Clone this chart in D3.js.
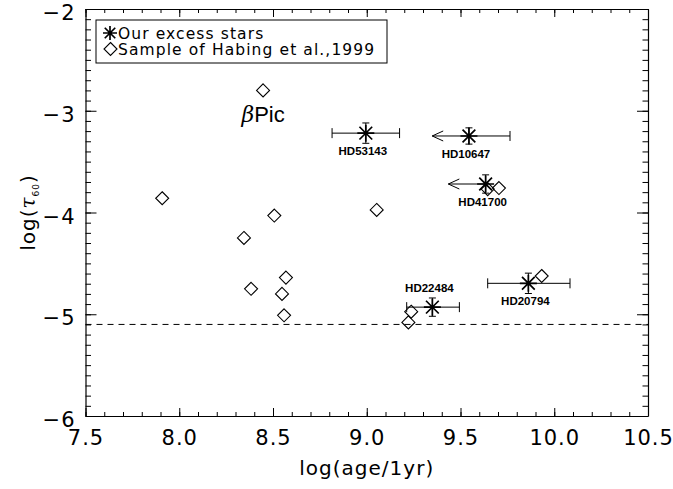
<!DOCTYPE html>
<html><head><meta charset="utf-8">
<script src="https://cdn.jsdelivr.net/npm/d3@7"></script>
<style>
body{margin:0;background:#fff;}
svg{display:block;font-family:"DejaVu Sans",sans-serif;}
</style></head>
<body><svg id="c" width="673" height="489"></svg>
<script>
// ---- data ----
const xTickValues = [7.5, 8.0, 8.5, 9.0, 9.5, 10.0, 10.5];
const xTickLabels = ["7.5", "8.0", "8.5", "9.0", "9.5", "10.0", "10.5"];
const yTickValues = [-6, -5, -4, -3, -2];
const yTickLabels = ["\u22126", "\u22125", "\u22124", "\u22123", "\u22122"];

const starNames = ["HD53143", "HD10647", "HD41700", "HD22484", "HD20794"];
const starAge   = [8.995, 9.545, 9.634, 9.35, 9.862];
const starTau   = [-3.22, -3.248, -3.72, -4.93, -4.696];
const starAgeLo = [8.815, 9.349, 9.435, 9.213, 9.645];
const starAgeHi = [9.175, 9.764, 9.634, 9.494, 10.084];
const starLoIsLimit = [false, true, true, false, false];
const starHiCap = [true, true, false, true, true];
const starTauErr = [0.1, 0.08, 0.09, 0.09, 0.1];
const starLabelAbove = [false, false, false, true, false];

const habingAge = [8.447, 7.909, 8.507, 8.345, 8.569, 8.383, 8.548, 8.559, 9.053, 9.645, 9.705, 9.237, 9.222, 9.933];
const habingTau = [-2.80, -3.86, -4.03, -4.25, -4.64, -4.75, -4.80, -5.01, -3.975, -3.77, -3.76, -4.975, -5.08, -4.624];

const detectionLimit = -5.1;
const betaPicLabel = {age: 8.447, tau: -2.80};

const legendLabels = ["Our excess stars", "Sample of Habing et al.,1999"];

// ---- layout ----
const L = 85.5, R = 648, T = 9, B = 416;
const svg = d3.select("#c");
const x = d3.scaleLinear().domain([7.5, 10.5]).range([L, R]);
const y = d3.scaleLinear().domain([-6, -2]).range([B, T]);

const xMinor = d3.range(75, 106).map(v => v / 10);
const yMinor = d3.range(-60, -19).map(v => v / 10);

function drawAxis(axisFn, scale, transform, major, minor, majLen, minLen, labels) {
  const gMin = svg.append("g").attr("transform", transform)
    .call(axisFn(scale).tickValues(minor).tickSize(minLen).tickFormat(""));
  gMin.select(".domain").remove();
  gMin.selectAll("line").attr("stroke", "#000").attr("stroke-width", 1);
  const g = svg.append("g").attr("transform", transform)
    .call(axisFn(scale).tickValues(major).tickSize(majLen).tickSizeOuter(0)
      .tickFormat(labels ? (d, i) => labels[i] : ""));
  g.select(".domain").attr("stroke", "#000").attr("stroke-width", 1.2);
  g.selectAll("line").attr("stroke", "#000").attr("stroke-width", 1);
  return g;
}
// ticks point inward
const gx = drawAxis(d3.axisBottom, x, `translate(0,${B})`, xTickValues, xMinor, -8, -4, xTickLabels);
gx.selectAll("text").attr("y", 14).attr("dy", "0.71em").attr("font-size", 21)
  .attr("letter-spacing", 1).attr("font-family", "DejaVu Sans").attr("fill", "#000");
drawAxis(d3.axisTop, x, `translate(0,${T})`, xTickValues, xMinor, -8, -4, null);
const gy = drawAxis(d3.axisLeft, y, `translate(${L},0)`, yTickValues, yMinor, -11, -5.5, yTickLabels);
gy.selectAll("text").attr("x", -10).attr("font-size", 21).attr("dy", "0.5em")
  .attr("letter-spacing", 1).attr("font-family", "DejaVu Sans").attr("fill", "#000");
drawAxis(d3.axisRight, y, `translate(${R},0)`, yTickValues, yMinor, -11, -5.5, null);

// axis titles
svg.append("text").attr("x", (L + R) / 2).attr("y", 475).attr("text-anchor", "middle")
  .attr("font-size", 20).attr("letter-spacing", 1).text("log(age/1yr)");
const yt = svg.append("text").attr("transform", `translate(35,${(T + B) / 2}) rotate(-90)`)
  .attr("text-anchor", "middle").attr("font-size", 20).attr("letter-spacing", 1);
yt.append("tspan").text("log(");
yt.append("tspan").attr("font-family", "DejaVu Serif").attr("font-style", "italic").text("\u03C4");
yt.append("tspan").attr("font-size", 9).attr("dy", 4).text("60");
yt.append("tspan").attr("dy", -4).text(")");

// detection limit
svg.append("line").attr("x1", L).attr("x2", R).attr("y1", y(detectionLimit)).attr("y2", y(detectionLimit))
  .attr("stroke", "#000").attr("stroke-width", 1).attr("stroke-dasharray", "6,5");

// symbols
function diamond(g, cx, cy, r) {
  g.append("path").attr("d", `M${cx},${cy - r}L${cx + r},${cy}L${cx},${cy + r}L${cx - r},${cy}Z`)
    .attr("fill", "none").attr("stroke", "#000").attr("stroke-width", 1.1);
}
function star(g, cx, cy, r) {
  const d = r * 0.75;
  g.append("path").attr("d",
    `M${cx - r},${cy}L${cx + r},${cy}M${cx},${cy - r}L${cx},${cy + r}` +
    `M${cx - d},${cy - d}L${cx + d},${cy + d}M${cx - d},${cy + d}L${cx + d},${cy - d}`)
    .attr("stroke", "#000").attr("stroke-width", 1.7).attr("fill", "none");
}

// Habing sample
const gh = svg.append("g");
habingAge.forEach((a, i) => diamond(gh, x(a), y(habingTau[i]), 6.5));

// beta Pic label
const bp = svg.append("text").attr("x", x(betaPicLabel.age)).attr("y", y(betaPicLabel.tau) + 32)
  .attr("text-anchor", "middle").attr("font-size", 22).attr("font-family", "Liberation Sans");
bp.append("tspan").attr("font-style", "italic").attr("font-family", "DejaVu Serif").text("\u03B2");
bp.append("tspan").text("Pic");

// our stars
const gs = svg.append("g");
starNames.forEach((n, i) => {
  const cx = x(starAge[i]), cy = y(starTau[i]);
  const xl = x(starAgeLo[i]), xh = x(starAgeHi[i]);
  gs.append("line").attr("x1", xl).attr("x2", xh).attr("y1", cy).attr("y2", cy)
    .attr("stroke", "#000").attr("stroke-width", 1);
  if (starLoIsLimit[i]) {
    gs.append("path").attr("d", `M${xl + 11},${cy - 5}L${xl},${cy}L${xl + 11},${cy + 5}`)
      .attr("fill", "none").attr("stroke", "#000").attr("stroke-width", 1);
  } else {
    gs.append("line").attr("x1", xl).attr("x2", xl).attr("y1", cy - 5).attr("y2", cy + 5)
      .attr("stroke", "#000").attr("stroke-width", 1);
  }
  if (starHiCap[i]) {
    gs.append("line").attr("x1", xh).attr("x2", xh).attr("y1", cy - 5).attr("y2", cy + 5)
      .attr("stroke", "#000").attr("stroke-width", 1);
  }
  const yt1 = y(starTau[i] + starTauErr[i]), yb1 = y(starTau[i] - starTauErr[i]);
  gs.append("path").attr("d", `M${cx},${yt1}L${cx},${yb1}M${cx - 3.5},${yt1}L${cx + 3.5},${yt1}M${cx - 3.5},${yb1}L${cx + 3.5},${yb1}`)
    .attr("stroke", "#000").attr("stroke-width", 1).attr("fill", "none");
  star(gs, cx, cy, 8.5);
  gs.append("text").attr("x", cx - 3).attr("y", starLabelAbove[i] ? cy - 15 : cy + 22)
    .attr("text-anchor", "middle").attr("font-size", 11.5).attr("font-weight", "bold")
    .attr("font-family", "Liberation Sans").text(n);
});

// legend
const lg = svg.append("g");
lg.append("rect").attr("x", 96).attr("y", 20).attr("width", 291).attr("height", 43)
  .attr("fill", "#fff").attr("stroke", "#000").attr("stroke-width", 1);
star(lg, 110, 33, 7);
diamond(lg, 110.5, 49, 6.5);
legendLabels.forEach((t, i) => {
  lg.append("text").attr("x", 118).attr("y", 33 + i * 16).attr("dy", "0.36em")
    .attr("font-size", 15.5).attr("letter-spacing", 1.1).text(t);
});
</script></body></html>
